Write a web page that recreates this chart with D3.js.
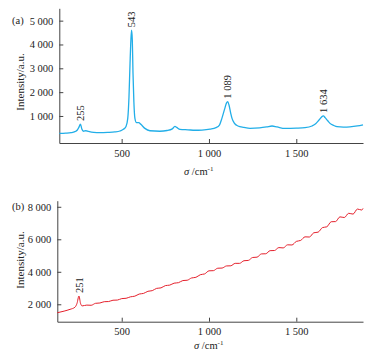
<!DOCTYPE html>
<html>
<head>
<meta charset="utf-8">
<script src="https://cdn.jsdelivr.net/npm/d3@7"></script>
<style>
body { margin: 0; background: #fff; }
text { font-family: "Liberation Serif", "Times New Roman", serif; fill: #222; }
.axis path, .axis line { stroke: #444; }
</style>
</head>
<body>
<svg id="chart"></svg>
<script>
var width = 374, height = 362;

// panel (a): Raman spectrum, [wavenumber, intensity]
var specA = [
    [143, 270], [180, 280], [210, 300], [232, 340], [245, 400], [255, 520], [264, 660],
    [272, 450], [282, 360], [295, 380], [310, 350], [340, 310], [376, 300], [420, 310],
    [461, 330], [490, 370], [510, 440], [525, 560], [535, 900], [542, 1800], [548, 3200],
    [553, 4200], [557, 4600], [561, 4200], [565, 2800], [570, 1600], [576, 900], [585, 720],
    [598, 720], [610, 650], [633, 480], [662, 380], [719, 360], [760, 390], [790, 460],
    [805, 560], [815, 520], [834, 440], [880, 420], [920, 400], [960, 410], [1006, 450],
    [1040, 510], [1060, 620], [1074, 900], [1090, 1300], [1100, 1540], [1107, 1600],
    [1115, 1450], [1125, 1100], [1132, 900], [1145, 700], [1166, 580], [1200, 520],
    [1235, 480], [1290, 500], [1330, 540], [1361, 580], [1390, 540], [1435, 480],
    [1500, 490], [1550, 510], [1590, 580], [1607, 650], [1630, 830], [1645, 960],
    [1655, 1000], [1665, 930], [1680, 800], [1693, 690], [1715, 600], [1733, 550],
    [1770, 530], [1807, 540], [1850, 580], [1882, 630]
]
var peaksA = [
    {label: "255", x: 264, y: 660},
    {label: "543", x: 557, y: 4600},
    {label: "1 089", x: 1107, y: 1600},
    {label: "1 634", x: 1655, y: 1000}
]
var yTicksA = [1000, 2000, 3000, 4000, 5000]

// panel (b)
var specB = [
    [131, 1480], [170, 1580], [204, 1690], [232, 1820], [244, 2060], [255, 2510], [264, 2060],
    [273, 1900], [300, 1950], [325, 1940], [350, 2060], [375, 2080], [400, 2160], [425, 2170],
    [450, 2250], [475, 2260], [500, 2350], [525, 2370], [550, 2460], [575, 2500], [600, 2630],
    [625, 2670], [650, 2800], [675, 2840], [700, 2980], [725, 3010], [750, 3150], [775, 3180],
    [800, 3300], [825, 3330], [850, 3460], [875, 3480], [900, 3620], [925, 3660], [950, 3820],
    [975, 3870], [1000, 4060], [1025, 4070], [1050, 4220], [1075, 4230], [1100, 4360],
    [1125, 4370], [1150, 4520], [1175, 4520], [1200, 4680], [1225, 4700], [1250, 4880],
    [1275, 4900], [1300, 5100], [1325, 5110], [1350, 5300], [1375, 5310], [1400, 5490],
    [1425, 5470], [1450, 5660], [1475, 5650], [1500, 5870], [1525, 5930], [1550, 6150],
    [1575, 6140], [1600, 6400], [1625, 6440], [1650, 6720], [1675, 6770], [1700, 7080],
    [1725, 7090], [1750, 7380], [1775, 7340], [1800, 7600], [1825, 7550], [1850, 7860],
    [1875, 7800], [1882, 7900]
]
var peaksB = [
    {label: "251", x: 255, y: 2510}
]
var yTicksB = [2000, 4000, 6000, 8000]

var xTicks = [500, 1000, 1500]

var locale = d3.formatLocale({decimal: ".", thousands: " ", grouping: [3], currency: ["", ""]})
var fmt = locale.format(",d")

var svg = d3.select("#chart")
    .attr("width", width)
    .attr("height", height)

function panel(opt) {
    var x = d3.scaleLinear().domain(opt.xDomain).range(opt.xRange)
    var y = d3.scaleLinear().domain(opt.yDomain).range(opt.yRange)
    var g = svg.append("g")

    g.append("g")
        .attr("class", "axis")
        .attr("transform", "translate(0," + opt.yRange[0] + ")")
        .call(d3.axisBottom(x).tickValues(xTicks).tickFormat(fmt)
            .tickSizeInner(-4).tickSizeOuter(0).tickPadding(opt.xPad))
        .call(a => a.selectAll("text").attr("font-size", "10.5px").attr("font-family", null))

    g.append("g")
        .attr("class", "axis")
        .attr("transform", "translate(" + opt.xRange[0] + ",0)")
        .call(d3.axisLeft(y).tickValues(opt.yTicks).tickFormat(fmt)
            .tickSizeInner(-4).tickSizeOuter(0).tickPadding(6))
        .call(a => a.selectAll("text").attr("font-size", "10.5px").attr("font-family", null))

    var line = d3.line()
        .x(d => x(d[0]))
        .y(d => y(d[1]))
        .curve(d3.curveMonotoneX)

    g.append("path")
        .datum(opt.data)
        .attr("fill", "none")
        .attr("stroke", opt.color)
        .attr("stroke-width", opt.lw)
        .attr("stroke-linejoin", "round")
        .attr("d", line)

    g.selectAll(".peak")
        .data(opt.peaks)
        .enter()
        .append("text")
        .attr("font-size", "10.5px")
        .attr("dy", "0.35em")
        .attr("transform", d => "translate(" + x(d.x) + "," + (y(d.y) - 3) + ") rotate(-90)")
        .text(d => d.label)

    // panel letter next to the top tick label
    g.append("text")
        .attr("x", 12)
        .attr("y", y(opt.yTicks[opt.yTicks.length - 1]))
        .attr("dy", "0.32em")
        .attr("font-size", "10.5px")
        .text(opt.letter)

    g.append("text")
        .attr("transform", "translate(24," + opt.yLabelY + ") rotate(-90)")
        .attr("text-anchor", "middle")
        .attr("font-size", "11px")
        .text("Intensity/a.u.")

    var xl = g.append("text")
        .attr("x", opt.xLabelX)
        .attr("y", opt.xLabelY)
        .attr("font-size", "10.5px")
    xl.append("tspan").attr("font-style", "italic").text("σ")
    xl.append("tspan").text(" /cm")
    xl.append("tspan").attr("font-size", "7px").attr("dy", "-4").text("-1")
}

panel({
    xDomain: [143, 1882], xRange: [59.3, 363],
    yDomain: [-134, 5518], yRange: [143, 8.3],
    yTicks: yTicksA, data: specA, peaks: peaksA,
    color: "#22aee8", lw: 1.3, letter: "(a)", xPad: 7,
    yLabelY: 82, xLabelX: 184, xLabelY: 175
})

panel({
    xDomain: [131, 1882], xRange: [57.3, 363],
    yDomain: [929, 8375], yRange: [321.7, 200.7],
    yTicks: yTicksB, data: specB, peaks: peaksB,
    color: "#e5202c", lw: 1, letter: "(b)", xPad: 6,
    yLabelY: 260, xLabelX: 194, xLabelY: 349
})
</script>
</body>
</html>
